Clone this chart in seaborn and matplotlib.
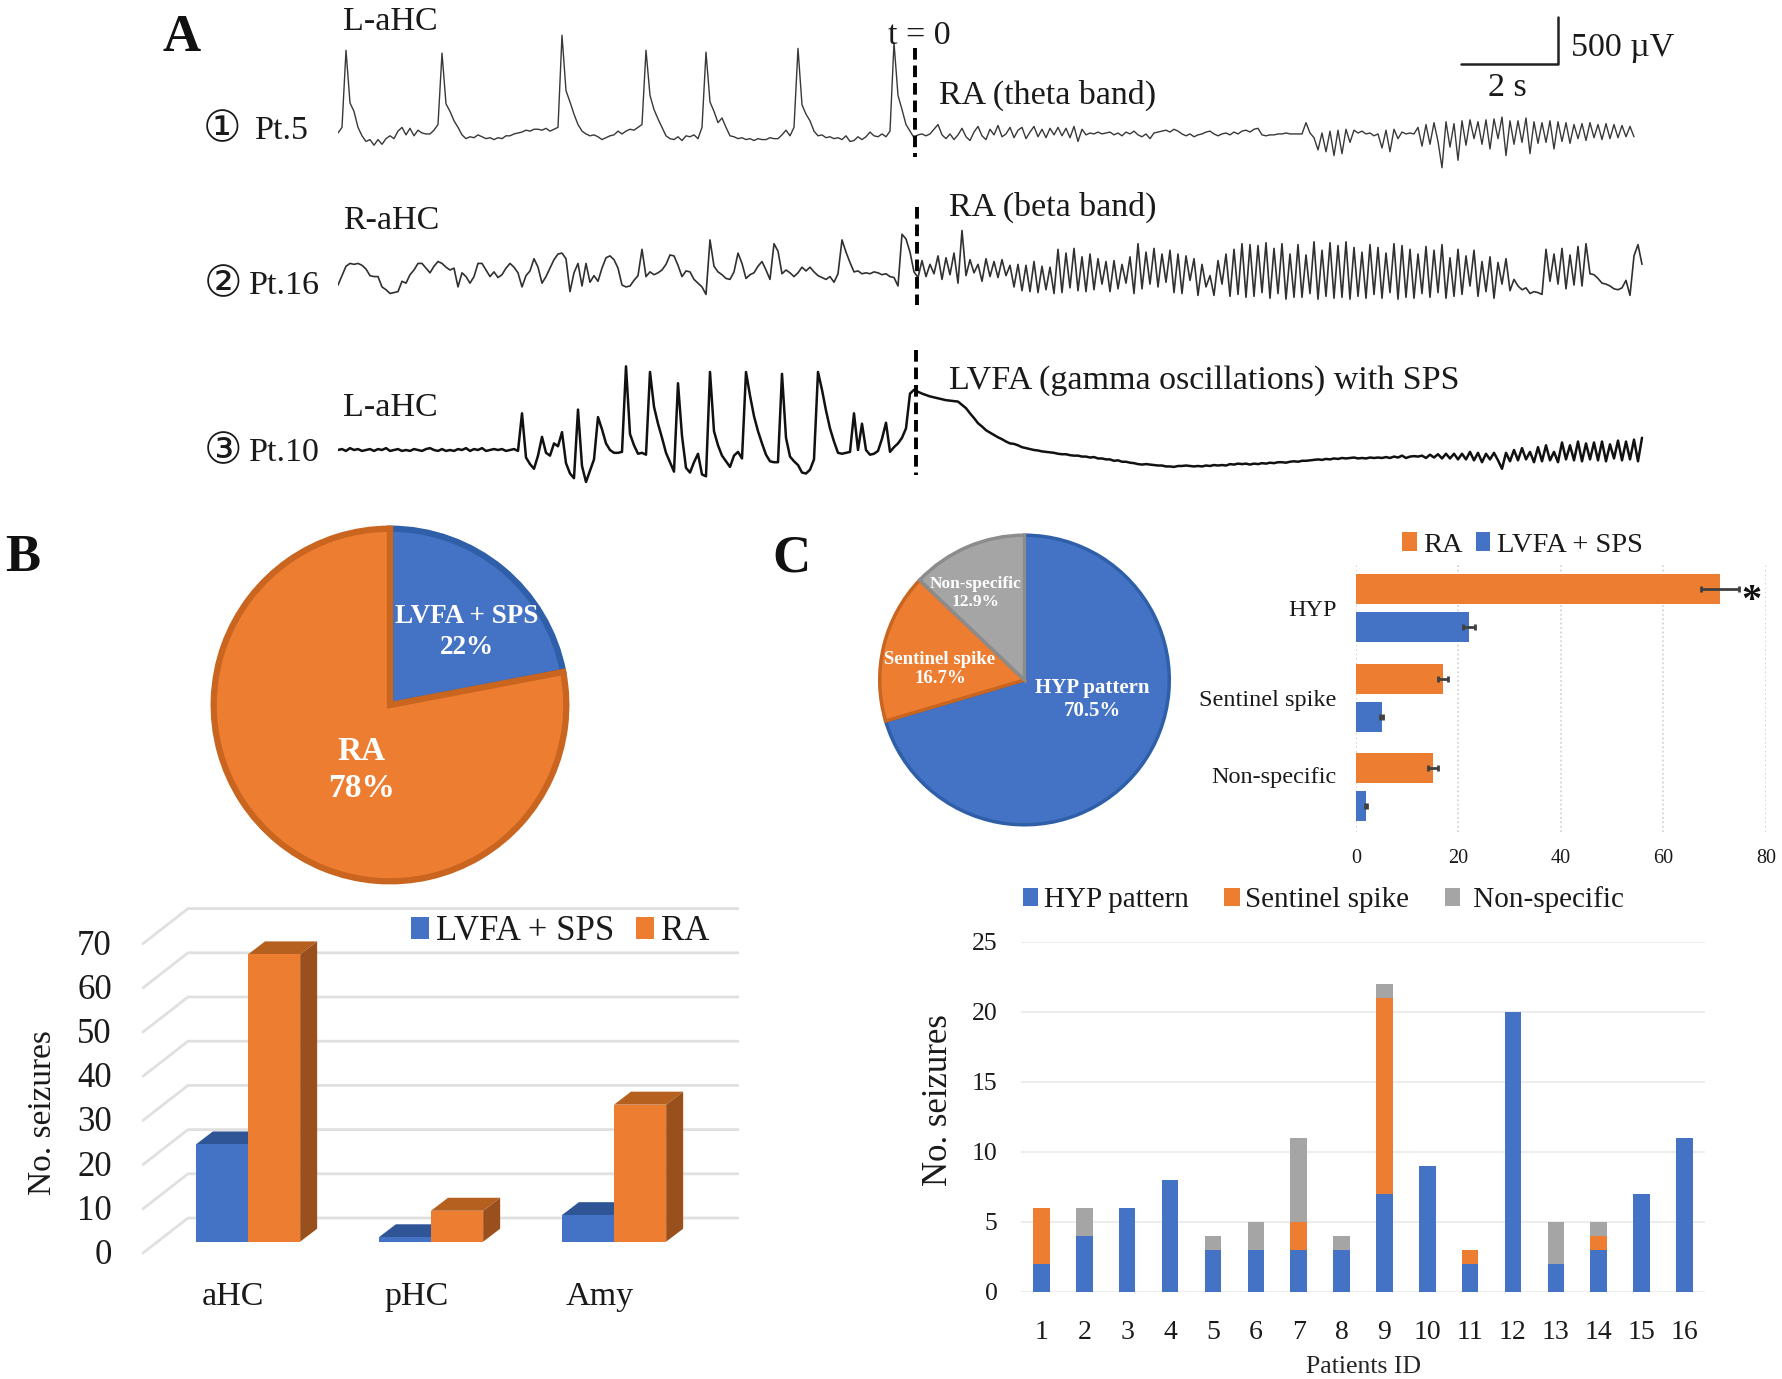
import numpy as np
import pandas as pd
import seaborn as sns
import matplotlib.pyplot as plt
from matplotlib.patches import Polygon

W, H = 1783, 1379
BLUE = "#4472C4"
ORANGE = "#ED7D31"
GREY = "#A5A5A5"

# Panel A, samples every 4 px of the trace (about 0.0825 s), values in uV from baseline
trace_pt5 = [
    0, 60, 880, 320, 230, 60, -30, -90, -70, -130,
    -70, -120, -60, -30, -60, 20, 60, -20, 50, -30,
    30, 0, -10, -10, 30, 90, 850, 310, 230, 130,
    60, -20, -60, -40, -50, -20, -40, -60, -50, -70,
    -50, -60, -30, -30, -10, 0, 10, 30, 20, 40,
    40, 30, 50, 20, 40, 60, 1040, 450, 330, 200,
    90, 20, -10, -30, -20, -40, -70, -50, -30, -20,
    20, -10, 20, 40, 30, 60, 90, 880, 400, 250,
    150, 60, -30, -60, -70, -40, -80, -30, -40, -20,
    -60, 60, 860, 330, 230, 110, 160, 60, -30, -40,
    -60, -50, -70, -60, -80, -60, -70, -70, -50, -60,
    -60, -20, 30, -30, 60, 900, 300, 200, 130, 20,
    -30, -20, -50, -40, -60, -50, -70, -30, -90, -80,
    -40, -70, -40, 10, -30, -40, -10, -40, 20, 960,
    400, 250, 90, 20, -50, -20, -10, -30, -10, 40,
    90, -20, -60, -10, -70, -20, 50, -40, -80, 10,
    70, -30, -70, 40, -20, 80, -40, -10, 60, -50,
    30, 60, -60, 10, 70, -40, 40, -50, 50, -20,
    60, -30, 50, -50, 70, -90, 40, -20, 0, -10,
    10, -10, 0, 10, -20, 0, -30, 10, -10, 20,
    -20, -40, -10, -60, 0, 10, 20, 30, 10, 40,
    20, -10, -30, -10, -40, -20, -10, 10, 20, -10,
    -30, -10, 0, -20, 10, -10, 20, 30, 10, 40,
    50, -20, -30, -20, -20, -10, -10, 0, -10, -10,
    -10, -10, 110, 0, -50, -180, 0, -200, 20, -240,
    30, -220, 40, -100, 30, 0, 20, -10, 0, -30,
    -10, -160, 30, -200, 40, -60, 10, -10, 0, -10,
    60, -140, 90, -120, 110, -90, -370, 120, -150, 100,
    -290, 130, -130, 140, -60, 120, -120, 140, -170, 150,
    -60, 170, -240, 130, -120, 130, -100, 160, -220, 120,
    -110, 110, -100, 130, -170, 120, -90, 110, -110, 90,
    -60, 100, -80, 110, -50, 90, -70, 100, -60, 90,
    -50, 80, -40, 70, -40,
]
trace_pt16 = [
    -160, -60, 40, 70, 60, 70, 50, 10, -60, -70,
    -70, -180, -210, -250, -240, -230, -120, -140, -50, 0,
    70, 70, 20, -30, 40, 90, 70, 30, 0, 20,
    -180, -30, -70, -140, -70, 70, 70, 0, -70, -20,
    -80, -50, 20, 70, 30, -30, -180, -60, -10, 120,
    30, -140, -70, 20, 110, 170, 180, 120, -230, -30,
    70, -170, 70, -130, -60, -120, 20, 130, 150, 110,
    20, -160, -180, -170, -110, -60, 220, -70, -20, -50,
    -30, 0, 60, 160, 150, 50, -70, -10, -20, -100,
    -140, -180, -260, 320, 40, -20, -50, -90, -100, -20,
    180, 70, -90, -50, -30, 40, 90, 0, -100, 280,
    200, -40, 0, -30, -70, -30, 30, -10, 30, -20,
    -60, -80, -100, -70, -130, -40, 320, 190, 80, -20,
    -10, -40, -30, -40, -20, -30, -50, -40, -70, -80,
    -170, 380, 330, 190, -20, -80, 100, -70, 60, -40,
    150, -100, 130, -50, 180, -140, 420, -60, 110, -30,
    60, -120, 120, -70, 90, -80, 110, -60, 50, -180,
    60, -220, 50, -230, 90, -240, 40, -210, 30, -250,
    220, -240, 180, -190, 230, -220, 140, -230, 170, -210,
    120, -150, 90, -230, 100, -200, 60, -140, 140, -250,
    280, -200, 190, -150, 230, -180, 170, -130, 210, -240,
    170, -250, 150, -110, 120, -270, 60, -180, -60, -270,
    100, -150, 170, -280, 220, -260, 280, -290, 270, -280,
    260, -240, 290, -300, 230, -250, 280, -310, 170, -290,
    270, -290, 160, -250, 300, -310, 210, -280, 290, -300,
    260, -290, 300, -310, 240, -280, 190, -300, 270, -260,
    240, -300, 180, -240, 280, -310, 260, -290, 220, -300,
    170, -250, 250, -290, 210, -240, 270, -300, 130, -280,
    220, -260, 150, -170, 210, -280, 90, -230, 140, -300,
    80, -150, 120, -220, -100, -170, -210, -190, -250, -230,
    -240, -260, 220, -120, 170, -150, 230, -200, 160, -160,
    250, -170, 280, -40, -50, -90, -140, -150, -170, -200,
    -210, -190, -110, -270, 150, 270, 60,
]
trace_pt10 = [
    0, 10, -10, 20, 0, 10, -10, 0, 10, -10,
    10, 0, 20, -10, 0, 10, -10, 0, -10, 10,
    0, -10, 10, 20, 0, -10, 10, -10, 0, -10,
    10, 0, 20, -10, 10, 0, 20, -10, 0, 10,
    0, 10, -10, 0, 10, -10, 390, -80, -150, -200,
    -60, 140, -30, -60, 70, 40, 190, -140, -250, -300,
    430, -170, -340, -220, -100, 350, 220, 70, 0, -30,
    -30, -20, 890, 170, 50, -40, -30, -50, 830, 460,
    280, 130, -30, -130, -230, 710, 150, -190, -240, -130,
    -40, -260, -280, 830, 200, 50, -60, -120, -180, -60,
    -20, -90, 830, 580, 360, 200, 70, -50, -120, -130,
    -130, 810, 130, -70, -120, -160, -240, -250, -210, -100,
    830, 640, 420, 230, 90, -30, -40, -30, -20, 390,
    0, 280, 0, -50, -40, -10, 120, 290, -20, 30,
    70, 130, 230, 600, 640, 620, 600, 585, 570, 560,
    550, 540, 530, 525, 520, 515, 480, 445, 390, 340,
    285, 250, 210, 185, 160, 135, 115, 90, 70, 65,
    50, 30, 20, 10, 0, -5, -15, -20, -25, -30,
    -40, -45, -45, -55, -60, -60, -70, -70, -80, -75,
    -90, -90, -100, -100, -115, -110, -125, -125, -135, -140,
    -150, -155, -150, -155, -160, -165, -165, -175, -175, -180,
    -170, -170, -165, -170, -175, -170, -175, -165, -170, -160,
    -165, -160, -165, -150, -155, -145, -150, -145, -155, -145,
    -150, -140, -145, -135, -140, -130, -130, -135, -125, -120,
    -125, -115, -115, -110, -105, -100, -105, -95, -100, -90,
    -95, -85, -90, -85, -80, -90, -85, -90, -80, -85,
    -80, -85, -75, -85, -70, -80, -60, -85, -70, -65,
    -70, -60, -85, -50, -80, -45, -90, -40, -90, -40,
    -100, -40, -100, -20, -110, -30, -130, -40, -100, -30,
    -110, -200, -30, -120, 0, -110, 20, -100, -20, -130,
    30, -120, 50, -110, -20, -130, 80, -100, 50, -110,
    90, -120, 70, -100, 80, -110, 90, -120, 60, -90,
    100, -110, 90, -100, 110, -120, 130,
]

# Panel B
onset_labels = ["LVFA + SPS", "RA"]
onset_share = [22, 78]
regions = ["aHC", "pHC", "Amy"]
region_lvfa = [22, 1, 6]
region_ra = [65, 7, 31]
region_ticks = [0, 10, 20, 30, 40, 50, 60, 70]

# Panel C
pattern_labels = ["HYP pattern", "Sentinel spike", " Non-specific"]
pattern_share = [70.5, 16.7, 12.9]
pattern_names = ["HYP", "Sentinel spike", "Non-specific"]
pattern_ra = [71, 17, 15]
pattern_lvfa = [22, 5, 2]
pattern_ra_err = [3.7, 1.0, 1.0]
pattern_lvfa_err = [1.2, 0.3, 0.2]
patients = list(range(1, 17))
hyp_counts = [2, 4, 6, 8, 3, 3, 3, 3, 7, 9, 2, 20, 2, 3, 7, 11]
sentinel_counts = [4, 0, 0, 0, 0, 0, 2, 0, 14, 0, 1, 0, 0, 1, 0, 0]
nonspecific_counts = [0, 2, 0, 0, 1, 2, 6, 1, 1, 0, 0, 0, 3, 1, 0, 0]

sns.set_theme(style="white")
plt.rcParams["font.family"] = ["Liberation Serif", "DejaVu Sans"]
plt.rcParams["text.color"] = "#1a1a1a"
plt.rcParams["xtick.color"] = "#1a1a1a"
plt.rcParams["ytick.color"] = "#1a1a1a"

fig = plt.figure(figsize=(W / 100, H / 100), dpi=100)


def px_axes(left, top, right, bottom):
    ax = fig.add_axes([left / W, 1 - bottom / H, (right - left) / W, (bottom - top) / H])
    ax.patch.set_alpha(0)
    return ax


def hide_spines(ax):
    for spine in ax.spines.values():
        spine.set_visible(False)


# traces, 47 px = 500 uV and 48.5 px = 1 s
UV_PER_PX = 500 / 47
S_PER_PX = 1 / 48.5
for values, base, lw, col in [
    (trace_pt5, 133, 1.0, "#383838"),
    (trace_pt16, 270, 1.2, "#303030"),
    (trace_pt10, 450, 1.8, "#111111"),
]:
    ax = px_axes(338, base - 150, 1650, base + 70)
    t = np.arange(len(values)) * 4 * S_PER_PX
    sns.lineplot(x=t, y=values, estimator=None, sort=False, color=col, lw=lw, ax=ax)
    ax.set_xlim(0, 1312 * S_PER_PX)
    ax.set_ylim(-70 * UV_PER_PX, 150 * UV_PER_PX)
    ax.axis("off")

# pie B
ax = px_axes(390 - 179, 705 - 179, 390 + 179, 705 + 179)
wedges, _ = ax.pie(onset_share, colors=[BLUE, ORANGE], startangle=90, counterclock=False, radius=0.985)
wedges[0].set(edgecolor="#2F5FA8", lw=4.5)
wedges[1].set(edgecolor="#C9651F", lw=4.5)
ax.set_xlim(-1, 1)
ax.set_ylim(-1, 1)

# oblique bars B
PX_PER_UNIT = 4.42
PX_PER_CAT = 183
ax = px_axes(143, 880, 738, 1270)
df = pd.DataFrame({
    "region": regions * 2,
    "count": region_lvfa + region_ra,
    "type": ["LVFA + SPS"] * 3 + ["RA"] * 3,
})
sns.barplot(df, x="region", y="count", hue="type", palette=[BLUE, ORANGE], width=0.57,
            saturation=1, linewidth=0, ax=ax, zorder=4)
ax.set_xlim((143 - 248) / PX_PER_CAT, (738 - 248) / PX_PER_CAT)
ax.set_ylim(-(1270 - 1241.7) / PX_PER_UNIT, (1241.7 - 880) / PX_PER_UNIT)
depth_x = 17 / PX_PER_CAT
depth_y = 13 / PX_PER_UNIT
for bars, top_col, side_col in zip(ax.containers, ["#2F5597", "#B5601F"], ["#2F5597", "#9A501C"]):
    for bar in bars:
        x0, x1, v = bar.get_x(), bar.get_x() + bar.get_width(), bar.get_height()
        ax.add_patch(Polygon([(x0, v), (x0 + depth_x, v + depth_y), (x1 + depth_x, v + depth_y), (x1, v)],
                             color=top_col, lw=0, zorder=3))
        ax.add_patch(Polygon([(x1, 0), (x1 + depth_x, depth_y), (x1 + depth_x, v + depth_y), (x1, v)],
                             color=side_col, lw=0, zorder=3))
back_left = (188 - 248) / PX_PER_CAT
front_left = (143 - 248) / PX_PER_CAT
for v in region_ticks:
    ax.plot([front_left, back_left, (738 - 248) / PX_PER_CAT], [v - 2.56, v + 5.36, v + 5.36],
            color="#E0E0E0", lw=2, zorder=1, clip_on=False)
    ax.text(front_left - 31 / PX_PER_CAT, v - 3.1, str(v), ha="right", va="center", fontsize=25)
ax.set_xticks(np.arange(3) - 0.08, regions)
ax.tick_params(axis="x", length=0, pad=8, labelsize=24.5)
ax.set_yticks([])
ax.set_xlabel("")
ax.set_ylabel("")
hide_spines(ax)
ax.legend(loc="center left", bbox_to_anchor=(411 / W, 1 - 932 / H), bbox_transform=fig.transFigure,
          ncol=2, frameon=False, fontsize=25, handlelength=0.52, handleheight=0.6,
          handletextpad=0.2, columnspacing=0.62, borderpad=0, borderaxespad=0)

# pie C
ax = px_axes(1024.5 - 147, 680 - 147, 1024.5 + 147, 680 + 147)
wedges, _ = ax.pie(pattern_share, colors=[BLUE, ORANGE, GREY], startangle=90, counterclock=False, radius=0.985)
wedges[0].set(edgecolor="#2F5FA8", lw=2.5)
wedges[1].set(edgecolor="#C9651F", lw=2.5)
wedges[2].set(edgecolor="#8C8C8C", lw=2.5)
ax.set_xlim(-1, 1)
ax.set_ylim(-1, 1)

# horizontal bars C
ax = px_axes(1356, 563, 1766, 832)
df = pd.DataFrame({
    "pattern": pattern_names * 2,
    "pct": pattern_ra + pattern_lvfa,
    "type": ["RA"] * 3 + ["LVFA + SPS"] * 3,
})
sns.barplot(df, y="pattern", x="pct", hue="type", palette=[ORANGE, BLUE], width=0.85, gap=0.21,
            saturation=1, linewidth=0, orient="h", ax=ax, zorder=3)
for bars, vals, errs in zip(ax.containers, [pattern_ra, pattern_lvfa], [pattern_ra_err, pattern_lvfa_err]):
    ys = [b.get_y() + b.get_height() / 2 for b in bars]
    ax.errorbar(vals, ys, xerr=errs, fmt="none", ecolor="#404040", elinewidth=2, capsize=2, capthick=2, zorder=5)
ax.set_xlim(0, 80)
ax.set_ylim(2.5, -0.503)
ax.set_xticks([0, 20, 40, 60, 80])
ax.grid(axis="x", color="#CFCFCF", ls=":", lw=1.2)
ax.set_yticks([0, 1, 1.86], pattern_names)
ax.tick_params(axis="x", length=0, pad=12, labelsize=14.5)
ax.tick_params(axis="y", length=0, pad=14, labelsize=17.5)
ax.set_xlabel("")
ax.set_ylabel("")
hide_spines(ax)
ax.legend(loc="center left", bbox_to_anchor=(1402 / W, 1 - 545 / H), bbox_transform=fig.transFigure,
          ncol=2, frameon=False, fontsize=20.5, handlelength=0.52, handleheight=0.6,
          handletextpad=0.22, columnspacing=0.45, borderpad=0, borderaxespad=0)

# stacked bars C
ax = px_axes(1021, 942, 1705, 1292)
sns.barplot(x=patients, y=hyp_counts, color=BLUE, width=0.385, saturation=1, linewidth=0, ax=ax,
            label=pattern_labels[0], zorder=3)
sns.barplot(x=patients, y=sentinel_counts, color=ORANGE, width=0.385, saturation=1, linewidth=0, ax=ax,
            bottom=hyp_counts, label=pattern_labels[1], zorder=3)
sns.barplot(x=patients, y=nonspecific_counts, color=GREY, width=0.385, saturation=1, linewidth=0, ax=ax,
            bottom=np.add(hyp_counts, sentinel_counts), label=pattern_labels[2], zorder=3)
ax.set_xlim(-0.478, 15.48)
ax.set_ylim(0, 25)
ax.set_yticks([0, 5, 10, 15, 20, 25])
ax.grid(axis="y", color="#EDEDED", lw=1.5)
ax.tick_params(axis="x", length=0, pad=20, labelsize=20)
ax.tick_params(axis="y", length=0, pad=17, labelsize=18.5)
ax.set_xlabel("Patients ID", fontsize=18.5, labelpad=8)
ax.set_ylabel("")
hide_spines(ax)
ax.legend(loc="center left", bbox_to_anchor=(1023 / W, 1 - 900 / H), bbox_transform=fig.transFigure,
          ncol=3, frameon=False, fontsize=21, handlelength=0.52, handleheight=0.6,
          handletextpad=0.2, columnspacing=1.22, borderpad=0, borderaxespad=0)

# everything placed by hand on the figure
canvas = px_axes(0, 0, W, H)
canvas.set_xlim(0, W)
canvas.set_ylim(H, 0)
canvas.axis("off")


def label(x, y, s, size=24.5, **kw):
    kw.setdefault("ha", "center")
    kw.setdefault("va", "center")
    canvas.text(x, y, s, fontsize=size, **kw)


label(182, 38, "A", 38, weight="bold", color="#111111")
label(23, 558, "B", 38, weight="bold", color="#111111")
label(791, 558, "C", 38, weight="bold", color="#111111")

label(343, 22, "L-aHC", ha="left")
label(343, 221, "R-aHC", ha="left")
label(343, 408, "L-aHC", ha="left")
label(222, 131, "①", 31)
label(223, 286, "②", 31)
label(223, 453, "③", 31)
label(255, 131, "Pt.5", 24.5, ha="left")
label(249, 286, "Pt.16", 24.5, ha="left")
label(249, 453, "Pt.10", 24.5, ha="left")
label(919, 36, "t = 0")
label(939, 95, "RA (theta band)", ha="left")
label(949, 207, "RA (beta band)", ha="left")
label(949, 381, "LVFA (gamma oscillations) with SPS", ha="left")
for x, y0, y1 in [(915, 48, 157), (917, 207, 305), (916, 350, 475)]:
    canvas.plot([x, x], [y0, y1], color="black", lw=2.8, ls=(0, (3.0, 1.5)))
canvas.plot([1461, 1558, 1558], [64, 64, 17], color="#222222", lw=1.8)
label(1571, 48, "500 µV", ha="left")
label(1507, 88, "2 s")

label(467, 632, "LVFA + SPS\n22%", 19.5, color="white", weight="bold", linespacing=1.3)
label(362, 770, "RA\n78%", 24, color="white", weight="bold", linespacing=1.25)
label(1092, 700, "HYP pattern\n70.5%", 15, color="white", weight="bold", linespacing=1.2)
label(940, 669, "Sentinel spike\n16.7%", 13.5, color="white", weight="bold", linespacing=1.2)
label(976, 593, "Non-specific\n12.9%", 12.5, color="white", weight="bold", linespacing=1.2)
label(1751, 601, "*", 29, weight="bold", color="#111111")

label(43, 1113, "No. seizures", 24, rotation=90)
label(939, 1100, "No. seizures", 25, rotation=90)

fig.savefig("out.png", dpi=100)
